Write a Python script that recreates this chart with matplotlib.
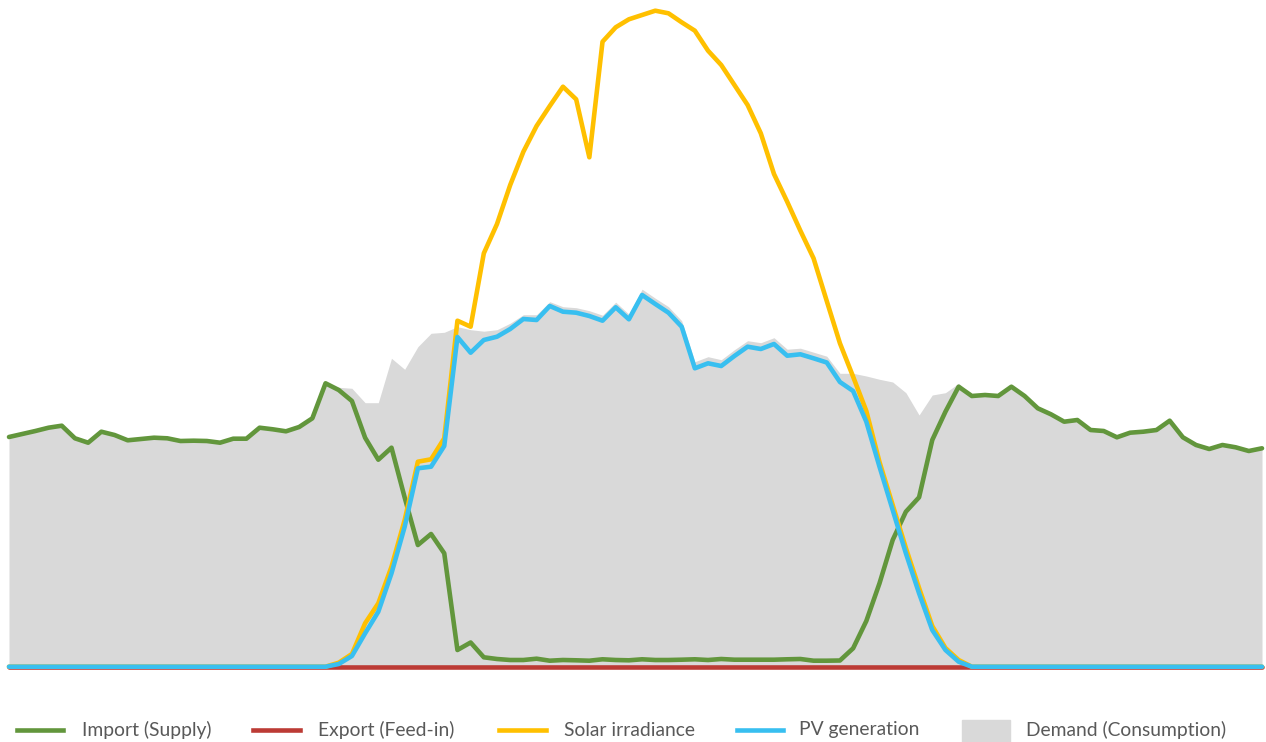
import numpy as np
import matplotlib
matplotlib.use("Agg")
import matplotlib.pyplot as plt
from matplotlib.lines import Line2D
from matplotlib.patches import Rectangle

# ---------------------------------------------------------------
# DATA: one day in 15-minute steps (96 slots), values in kW
# ---------------------------------------------------------------
slots = np.arange(96)

import_supply = [
    2.297, 2.327, 2.357, 2.390, 2.410, 2.284, 2.240, 2.350, 2.317, 2.264,
    2.277, 2.290, 2.284, 2.257, 2.260, 2.257, 2.240, 2.280, 2.280, 2.390,
    2.374, 2.354, 2.397, 2.484, 2.834, 2.767, 2.657, 2.290, 2.070, 2.190,
    1.692, 1.217, 1.327, 1.134, 0.167, 0.242, 0.094, 0.077, 0.067, 0.067,
    0.080, 0.060, 0.067, 0.064, 0.060, 0.074, 0.067, 0.064, 0.074, 0.067,
    0.067, 0.070, 0.074, 0.067, 0.077, 0.070, 0.070, 0.070, 0.070, 0.074,
    0.077, 0.060, 0.060, 0.062, 0.184, 0.457, 0.834, 1.267, 1.550, 1.694,
    2.267, 2.550, 2.800, 2.707, 2.717, 2.707, 2.800, 2.707, 2.584, 2.524,
    2.450, 2.467, 2.367, 2.357, 2.294, 2.340, 2.350, 2.367, 2.460, 2.294,
    2.217, 2.177, 2.217, 2.194, 2.157, 2.184,
]

export_feedin = [0.0] * 96

solar_irradiance = [0.0] * 25 + [
    0.040, 0.127, 0.434, 0.634, 1.000, 1.467, 2.050, 2.074, 2.284, 3.460,
    3.400, 4.134, 4.427, 4.817, 5.150, 5.407, 5.607, 5.800, 5.674, 5.094,
    6.250, 6.394, 6.474, 6.517, 6.560, 6.534, 6.444, 6.360, 6.160, 6.017,
    5.817, 5.617, 5.334, 4.927, 4.650, 4.360, 4.084, 3.657, 3.234, 2.900,
    2.557, 2.047, 1.617, 1.187, 0.787, 0.407, 0.187, 0.067,
] + [0.0] * 23

pv_generation = [0.0] * 25 + [
    0.027, 0.107, 0.334, 0.550, 0.934, 1.400, 1.984, 2.000, 2.207, 3.297,
    3.140, 3.267, 3.300, 3.377, 3.477, 3.467, 3.607, 3.550, 3.540, 3.507,
    3.460, 3.594, 3.474, 3.717, 3.627, 3.540, 3.400, 2.984, 3.034, 3.007,
    3.107, 3.200, 3.177, 3.227, 3.110, 3.124, 3.084, 3.042, 2.847, 2.757,
    2.450, 2.000, 1.567, 1.134, 0.734, 0.367, 0.167, 0.050,
] + [0.0] * 23

demand = import_supply[:24] + [
    2.834, 2.794, 2.784, 2.640, 2.640, 3.084, 2.974, 3.200, 3.334, 3.344,
    3.400, 3.370, 3.355, 3.370, 3.435, 3.520, 3.520, 3.650, 3.600, 3.590,
    3.560, 3.515, 3.645, 3.525, 3.775, 3.685, 3.600, 3.460, 3.050, 3.100,
    3.070, 3.170, 3.260, 3.240, 3.290, 3.175, 3.185, 3.145, 3.105, 2.934,
    2.934, 2.907, 2.874, 2.847, 2.740, 2.517, 2.717, 2.740, 2.834,
] + import_supply[73:]

labels = ['Import (Supply)', 'Export (Feed-in)', 'Solar irradiance',
          'PV generation', 'Demand (Consumption)']
colors = ['#62963C', '#BC3B35', '#FFC000', '#38BFF0', '#D9D9D9']

# ---------------------------------------------------------------
# CHART
# ---------------------------------------------------------------
W, H = 1266, 742
fig = plt.figure(figsize=(W / 100, H / 100), dpi=100)

base_px = 666.7   # pixel row of the zero line
step_px = 13.19   # pixels between slots
ax = fig.add_axes([0, (H - base_px) / H, 1, base_px / H])
ax.set_xlim(-9 / step_px, 95 + 4 / step_px)
ax.set_ylim(0, base_px / 100)
ax.axis('off')

ax.fill_between(slots, 0, demand, color=colors[4], linewidth=0, zorder=1)

lw = 3.3
series = [import_supply, export_feedin, solar_irradiance, pv_generation]
for i, vals in enumerate(series):
    ax.plot(slots, vals, color=colors[i], linewidth=lw, zorder=2 + i,
            solid_joinstyle='round', solid_capstyle='round', clip_on=False)

# legend drawn by hand along the bottom
leg_y = (H - 730) / H
line_x = [(16.7, 63.3), (253, 300), (499, 546), (737, 783)]
text_x = [81.7, 318, 563.5, 799, 1026]
for i, (x0, x1) in enumerate(line_x):
    fig.add_artist(Line2D([x0 / W, x1 / W], [leg_y, leg_y], color=colors[i],
                          linewidth=lw, transform=fig.transFigure))
fig.add_artist(Rectangle((962 / W, 0), 48 / W, (741 - 719) / H,
                         color=colors[4], transform=fig.transFigure))
for i, lab in enumerate(labels):
    fig.text(text_x[i] / W, leg_y, lab, fontsize=13.9, family='Lato',
             color='#595959', va='center', ha='left')

plt.savefig('out.png', dpi=100)
plt.close()
